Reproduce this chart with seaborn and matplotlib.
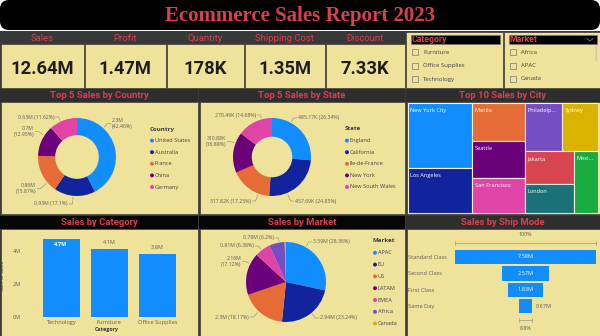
import numpy as np
import pandas as pd
import matplotlib
matplotlib.use("Agg")
import matplotlib.pyplot as plt
import seaborn as sns
from matplotlib.patches import Rectangle, FancyBboxPatch

# ---------------- data ----------------
kpi_labels = ["Sales", "Profit", "Quantity", "Shipping Cost", "Discount"]
kpi_values = ["12.64M", "1.47M", "178K", "1.35M", "7.33K"]

category_slicer = ["Furniture", "Office Supplies", "Technology"]
market_slicer = ["Africa", "APAC", "Canada"]

countries = ["United States", "Australia", "France", "China", "Germany"]
country_sales = [2.30, 0.93, 0.86, 0.70, 0.63]
country_labels = ["2.3M\n(42.46%)", "0.93M (17.1%)", "0.86M\n(15.87%)", "0.7M\n(12.95%)", "0.63M (11.62%)"]

states = ["England", "California", "Ile-de-France", "New York", "New South Wales"]
state_sales = [485.17, 457.69, 317.82, 310.88, 270.49]
state_labels = ["485.17K (26.34%)", "457.69K (24.85%)", "317.82K (17.25%)", "310.88K\n(16.88%)", "270.49K (14.68%)"]

cities = ["New York City", "Los Angeles", "Manila", "Seattle", "San Francisco",
          "Philadelphia", "Sydney", "Jakarta", "London", "Mexico City"]
city_sales = [256.37, 175.85, 120.89, 119.54, 112.67, 109.08, 105.34, 98.6, 86.6, 90.7]
city_display = ["New York City", "Los Angeles", "Manila", "Seattle", "San Francisco",
                "Philadelp...", "Sydney", "Jakarta", "London", "Mexi..."]

categories = ["Technology", "Furniture", "Office Supplies"]
category_sales = [4.7, 4.1, 3.8]

markets = ["APAC", "EU", "US", "LATAM", "EMEA", "Africa", "Canada"]
market_sales = [3.59, 2.94, 2.30, 2.16, 0.81, 0.78, 0.07]
market_labels = ["3.59M (28.36%)", "2.94M (23.24%)", "2.3M (18.17%)", "2.16M\n(17.12%)",
                 "0.81M (6.38%)", "0.78M (6.2%)", ""]

ship_modes = ["Standard Class", "Second Class", "First Class", "Same Day"]
ship_sales = [7.58, 2.57, 1.83, 0.67]

# ---------------- style ----------------
PAL = ["#118DFF", "#12239E", "#E66C37", "#6B007B", "#E044A7",
       "#744EC2", "#D9B300", "#D64550", "#197278", "#1AAB40"]
BLUE = PAL[0]
KHAKI = "#EFE29B"
RED = "#D8404E"
GREY = "#605E5C"
LINE = "#4A4A40"
NF = ["Roboto", "DejaVu Sans"]
plt.rcParams["font.family"] = ["Open Sans", "DejaVu Sans"]

W, H = 600, 336
fig = plt.figure(figsize=(6, 3.36), dpi=100, facecolor="white")


def axes_px(x0, y0, x1, y1):
    return fig.add_axes([x0 / W, 1 - y1 / H, (x1 - x0) / W, (y1 - y0) / H])


bg = fig.add_axes([0, 0, 1, 1])
bg.set_xlim(0, W)
bg.set_ylim(H, 0)
bg.axis("off")

bg.add_patch(Rectangle((0, 31), W, H - 31, facecolor="#3B3A34", edgecolor="none"))
bg.add_patch(FancyBboxPatch((0, 0), W, 30, boxstyle="round,pad=0,rounding_size=9",
                            facecolor="black", edgecolor="none"))
bg.text(W / 2, 15.5, "Ecommerce Sales Report 2023", ha="center", va="center",
        color=RED, fontsize=15, fontweight="bold", family=["Liberation Serif", "DejaVu Serif"])

# KPI cards
kx = [0, 84, 166, 244, 325, 405]
for i in range(5):
    x0, x1 = kx[i], kx[i + 1]
    bg.add_patch(Rectangle((x0, 32), x1 - x0, 12, facecolor="#383838", edgecolor="none"))
    bg.add_patch(Rectangle((x0 + 0.5, 44), x1 - x0 - 1, 44, facecolor=KHAKI,
                           edgecolor=LINE, linewidth=0.6))
    bg.text((x0 + x1) / 2, 38.3, kpi_labels[i], ha="center", va="center", color=RED,
            fontsize=6.8, family=NF)
    bg.text((x0 + x1) / 2, 68.5, kpi_values[i], ha="center", va="center", color="#1E1E1E",
            fontsize=13.2, fontweight="bold", family=NF)

# slicers
for (x0, x1, title, items) in [(405, 503, "Category", category_slicer),
                               (503, 600, "Market", market_slicer)]:
    bg.add_patch(Rectangle((x0 + 0.5, 32), x1 - x0 - 1, 56, facecolor=KHAKI,
                           edgecolor=LINE, linewidth=0.6))
    bg.add_patch(Rectangle((x0 + 6, 35), x1 - x0 - 9, 9, facecolor="black",
                           edgecolor="#777777", linewidth=0.4))
    bg.text(x0 + 7, 39.8, title, ha="left", va="center", color=RED, fontsize=6.3,
            fontweight="bold", family=NF)
    for j, it in enumerate(items):
        yy = 52 + 13.5 * j
        bg.add_patch(Rectangle((x0 + 7, yy - 3), 6, 6, facecolor="none",
                               edgecolor="#7A7A70", linewidth=0.5))
        bg.text(x0 + 18, yy, it, ha="left", va="center", color="#444444", fontsize=4.3)
bg.plot([587, 590, 593], [38.5, 41, 38.5], color="#888888", lw=0.5)
bg.add_patch(FancyBboxPatch((595.5, 46), 1.5, 15, boxstyle="round,pad=0,rounding_size=0.7",
                            facecolor="#C8C8C0", edgecolor="none"))

# row panels
cols = [(0, 198), (199, 405), (406, 600)]
row2_titles = ["Top 5 Sales by Country", "Top 5 Sales by State", "Top 10 Sales by City"]
row3_titles = ["Sales by Category", "Sales by Market", "Sales by Ship Mode"]
for (x0, x1), t in zip(cols, row2_titles):
    bg.add_patch(Rectangle((x0, 89), x1 - x0, 13, facecolor="#2E2E2E", edgecolor="none"))
    bg.add_patch(Rectangle((x0 + 0.5, 102), x1 - x0 - 1, 112, facecolor=KHAKI,
                           edgecolor=LINE, linewidth=0.6))
    bg.text((x0 + x1) / 2, 95.8, t, ha="center", va="center", color=RED,
            fontsize=6.8, fontweight="bold", family=NF)
for k, ((x0, x1), t) in enumerate(zip(cols, row3_titles)):
    hc = "#050505" if k < 2 else "#2E2E2E"
    bg.add_patch(Rectangle((x0, 216), x1 - x0, 13, facecolor=hc, edgecolor="none"))
    bg.add_patch(Rectangle((x0 + 0.5, 229), x1 - x0 - 1, 107, facecolor=KHAKI,
                           edgecolor=LINE, linewidth=0.6))
    bg.text((x0 + x1) / 2, 222.8, t, ha="center", va="center", color=RED,
            fontsize=6.8, fontweight="bold", family=NF)


# ---------------- pies ----------------
def pie_px(cx, cy, r, values, colors, width):
    ax = axes_px(cx - r, cy - r, cx + r, cy + r)
    wp = dict(edgecolor="none")
    if width is not None:
        wp["width"] = width
    ax.pie(values, colors=colors, startangle=90, counterclock=False, radius=1,
           wedgeprops=wp)
    ax.set_xlim(-1, 1)
    ax.set_ylim(-1, 1)
    ax.set_aspect("equal")
    ax.patch.set_alpha(0)
    return ax


pie_specs = [
    (77, 157, 39, country_sales, 0.44),
    (272, 157, 39, state_sales, 0.48),
    (286, 282, 40, market_sales, None),
]
for cx, cy, r, vals, wd in pie_specs:
    pie_px(cx, cy, r, vals, PAL[:len(vals)], wd)

fg = fig.add_axes([0, 0, 1, 1])
fg.set_xlim(0, W)
fg.set_ylim(H, 0)
fg.axis("off")
fg.patch.set_alpha(0)

country_pos = [(112, 123.5, "R"), (68, 204, "L"), (36, 188.5, "L"), (34, 131.5, "L"), (54, 117, "L")]
state_pos = [(298, 118, "R"), (295, 201, "R"), (251, 201, "L"), (226, 141.5, "L"), (256, 115, "L")]
market_pos = [(313, 242, "R"), (320, 318, "R"), (249, 317, "L"), (241, 261.5, "L"),
              (254, 246, "L"), (274, 238, "L"), None]


def leader_labels(cx, cy, r, labels, positions):
    for lab, pos in zip(labels, positions):
        if pos is None or not lab:
            continue
        x, y, side = pos
        if side == "R":
            fg.text(x, y, lab, ha="left", va="center", fontsize=3.7, color=GREY,
                    linespacing=1.25)
            p0 = (x - 1.2, y)
            p1 = (x - 4.5, y)
        else:
            fg.text(x, y, lab, ha="right", va="center", fontsize=3.7, color=GREY,
                    linespacing=1.25)
            p0 = (x + 1.2, y)
            p1 = (x + 4.5, y)
        d = np.array(p1) - np.array([cx, cy])
        d = d / np.hypot(*d)
        p2 = (cx + d[0] * (r + 1.5), cy + d[1] * (r + 1.5))
        fg.plot([p0[0], p1[0], p2[0]], [p0[1], p1[1], p2[1]], color="#8A8A80", lw=0.4)


leader_labels(77, 157, 39, country_labels, country_pos)
leader_labels(272, 157, 39, state_labels, state_pos)
leader_labels(286, 282, 40, market_labels, market_pos)


def legend(x, y0, title, items, step):
    fg.text(x - 1.5, y0, title, ha="left", va="center", fontsize=4.4, fontweight="bold",
            color="#3A3A3A")
    for i, it in enumerate(items):
        yy = y0 + step * (i + 1)
        fg.scatter([x + 1], [yy], s=8, color=PAL[i], edgecolors="none")
        fg.text(x + 3.8, yy, it, ha="left", va="center", fontsize=4.1, color="#444444")


legend(151, 129, "Country", countries, 11.6)
legend(346, 129, "State", states, 11.6)
legend(374, 241, "Market", markets, 11.8)

# ---------------- treemap ----------------
tree = ("h", [("v", [0, 1]), ("v", [2, 3, 4]),
              ("v", [("h", [5, 6]), ("h", [("v", [7, 8]), 9])])])


def node_value(n):
    if isinstance(n, int):
        return city_sales[n]
    return sum(node_value(c) for c in n[1])


rects = {}


def layout(n, x, y, w, h):
    if isinstance(n, int):
        rects[n] = (x, y, w, h)
        return
    tot = node_value(n)
    pos = 0.0
    for c in n[1]:
        f = node_value(c) / tot
        if n[0] == "h":
            layout(c, x + pos * w, y, f * w, h)
        else:
            layout(c, x, y + pos * h, w, f * h)
        pos += f


layout(tree, 0, 0, 1, 1)
axt = axes_px(408, 103, 598, 213)
axt.set_xlim(0, 1)
axt.set_ylim(1, 0)
axt.axis("off")
for i, (x, y, w, h) in rects.items():
    axt.add_patch(Rectangle((x, y), w, h, facecolor=PAL[i], edgecolor="#F4F0DA", linewidth=0.8))
    axt.text(x + 0.012, y + 0.045, city_display[i], ha="left", va="top", color="white",
             fontsize=4.1)

# ---------------- bar chart ----------------
df_cat = pd.DataFrame({"Category": categories, "Sales": category_sales})
axb = axes_px(24, 234, 190, 317)
sns.barplot(data=df_cat, x="Category", y="Sales", color=BLUE, saturation=1, width=0.77,
            order=categories, ax=axb)
axb.set_xlim(-0.77, 2.68)
axb.set_ylim(0, 5.0)
axb.set_yticks([0, 2, 4])
axb.set_yticklabels(["0M", "2M", "4M"])
for s in axb.spines.values():
    s.set_visible(False)
axb.patch.set_alpha(0)
axb.tick_params(length=0, labelsize=4.1, colors=GREY, pad=2)
axb.set_xlabel("Category", fontsize=3.9, fontweight="bold", color="#3A3A3A")
axb.xaxis.set_label_coords(0.5, -(327.5 - 317) / 83)
axb.set_ylabel("Sum of Sales", fontsize=3.7, color="#3A3A3A")
axb.yaxis.set_label_coords(-(24 - 5.5) / 166, 0.5)
for i, v in enumerate(category_sales):
    if v + 0.55 > axb.get_ylim()[1]:
        axb.text(i, v - 0.34, f"{v}M", ha="center", va="center", color="white",
                 fontsize=4.1, fontweight="bold")
    else:
        axb.text(i, v + 0.39, f"{v}M", ha="center", va="center", color=GREY, fontsize=4.1)

# ---------------- funnel ----------------
vmax = max(ship_sales)
lefts = [(vmax - v) / 2 for v in ship_sales]
axf = axes_px(455, 248.8, 596, 314.4)
axf.barh(range(len(ship_sales)), ship_sales, left=lefts, height=0.88, color=BLUE)
axf.set_xlim(0, vmax)
axf.set_ylim(len(ship_sales) - 0.5, -0.5)
axf.set_xticks([])
axf.set_yticks(range(len(ship_modes)))
axf.set_yticklabels(ship_modes, ha="left")
axf.tick_params(axis="y", length=0, pad=33.8, labelsize=4.1, labelcolor=GREY)
for s in axf.spines.values():
    s.set_visible(False)
axf.patch.set_alpha(0)
for i, (v, l) in enumerate(zip(ship_sales, lefts)):
    if v > 1.0:
        axf.text(vmax / 2, i, f"{v:.2f}M", ha="center", va="center", color="white", fontsize=4.1)
    else:
        axf.text(l + v + 0.2, i, f"{v:.2f}M", ha="left", va="center", color=GREY, fontsize=4.1)
yt, yb = -0.85, len(ship_sales) - 1 + 0.84
axf.plot([0, vmax], [yt, yt], color="#9A9A90", lw=0.5, clip_on=False)
for xx in (0, vmax):
    axf.plot([xx, xx], [yt - 0.12, yt + 0.12], color="#9A9A90", lw=0.5, clip_on=False)
axf.text(vmax / 2, yt - 0.5, "100%", ha="center", va="center", fontsize=3.9, color=GREY)
l3, v3 = lefts[-1], ship_sales[-1]
axf.plot([l3, l3 + v3], [yb, yb], color="#9A9A90", lw=0.5, clip_on=False)
for xx in (l3, l3 + v3):
    axf.plot([xx, xx], [yb - 0.12, yb + 0.12], color="#9A9A90", lw=0.5, clip_on=False)
axf.text(vmax / 2, yb + 0.55, f"{v3 / vmax * 100:.1f}%", ha="center", va="center",
         fontsize=3.9, color=GREY)

fig.savefig("out.png", dpi=100, facecolor="white")
